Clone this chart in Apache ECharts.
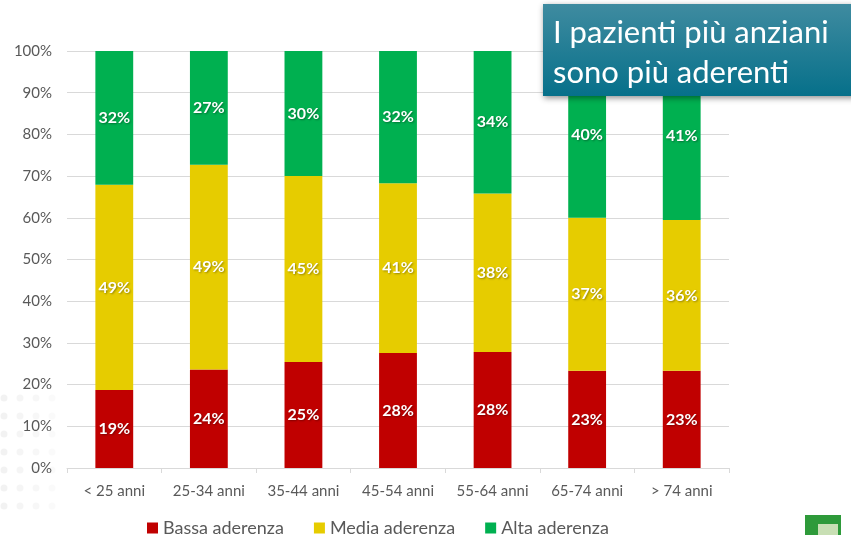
<!DOCTYPE html>
<html>
<head>
<meta charset="utf-8">
<script src="https://cdn.jsdelivr.net/npm/echarts@6/dist/echarts.min.js"></script>
<style>
  html, body { margin: 0; padding: 0; background: #fff; }
  #container { width: 851px; height: 535px; }
</style>
</head>
<body>
<div id="container"></div>
<script>
let categories = ['< 25 anni', '25-34 anni', '35-44 anni', '45-54 anni', '55-64 anni', '65-74 anni', '> 74 anni'];
let bassa = [18.7, 23.6, 25.4, 27.6, 27.8, 23.3, 23.3];
let media = [49.2, 49.1, 44.6, 40.7, 38.0, 36.7, 36.2];
let alta = [32.1, 27.3, 30.0, 31.7, 34.2, 40.0, 40.6];
let seriesNames = ['Bassa aderenza', 'Media aderenza', 'Alta aderenza'];
let colors = ['#C00000', '#E6CC00', '#00B050'];

let dom = document.getElementById('container');
let myChart = echarts.init(dom);

let barLabel = {
    show: true,
    position: 'inside',
    color: '#fff',
    fontFamily: 'Lato',
    fontWeight: 'bold',
    fontSize: 16,
    textShadowColor: 'rgba(0,0,0,0.35)',
    textShadowBlur: 2,
    textShadowOffsetX: 1,
    textShadowOffsetY: 1,
    formatter: function (p) {
        return Math.round(p.value) + '%';
    }
};

// puntini decorativi in basso a sinistra
let dots = [];
for (let r = 0; r < 7; r++) {
    for (let c = 0; c < 4; c++) {
        dots.push({
            type: 'circle',
            shape: { cx: 4 + c * 16, cy: 398 + r * 18, r: 3.5 },
            style: { fill: 'rgba(0,0,0,' + (0.05 - c * 0.01) + ')' },
            silent: true
        });
    }
}

let makeSeries = function (name, data, i) {
    return {
        name: name,
        type: 'bar',
        stack: 'tot',
        barWidth: '40%',
        data: data,
        itemStyle: { color: colors[i] },
        label: barLabel
    };
};

option = {
    animation: false,
    grid: { left: 67, right: 122, top: 51, bottom: 67 },
    legend: {
        top: 514,
        left: 142,
        itemWidth: 11,
        itemHeight: 11,
        itemGap: 30,
        icon: 'rect',
        textStyle: { color: '#595959', fontSize: 18, fontFamily: 'Lato' },
        data: seriesNames
    },
    xAxis: {
        type: 'category',
        data: categories,
        axisLine: { lineStyle: { color: '#d9d9d9' } },
        axisTick: { show: true, length: 5, lineStyle: { color: '#d9d9d9' } },
        axisLabel: { color: '#595959', fontSize: 15, fontFamily: 'Lato', margin: 16 }
    },
    yAxis: {
        type: 'value',
        min: 0,
        max: 100,
        interval: 10,
        axisLabel: { color: '#595959', fontSize: 15, fontFamily: 'Lato', formatter: '{value}%', margin: 15 },
        splitLine: { lineStyle: { color: '#d9d9d9' } }
    },
    graphic: dots.concat([
        {
            type: 'rect',
            shape: { x: 543, y: 4, width: 320, height: 92 },
            style: {
                fill: new echarts.graphic.LinearGradient(0, 0, 0, 1, [
                    { offset: 0, color: '#3f8ba0' },
                    { offset: 1, color: '#06708a' }
                ]),
                shadowColor: 'rgba(0,0,0,0.45)',
                shadowBlur: 6,
                shadowOffsetX: 1,
                shadowOffsetY: 2
            },
            z: 100
        },
        {
            type: 'text',
            left: 553,
            top: 13,
            style: {
                text: 'I pazien\u200Cti più anziani\nsono più aderen\u200Cti',
                fill: '#fff',
                fontSize: 31,
                lineHeight: 40,
                fontFamily: 'Lato'
            },
            z: 101
        },
        {
            type: 'rect',
            shape: { x: 805, y: 515, width: 36, height: 22 },
            style: { fill: '#2e9a3a' },
            z: 100
        },
        {
            type: 'rect',
            shape: { x: 818, y: 524, width: 20, height: 14 },
            style: { fill: '#c8dfb4' },
            z: 101
        }
    ]),
    series: [
        makeSeries(seriesNames[0], bassa, 0),
        makeSeries(seriesNames[1], media, 1),
        makeSeries(seriesNames[2], alta, 2)
    ]
};
if (option && typeof option === 'object') {
    myChart.setOption(option, true);
}
</script>
</body>
</html>
